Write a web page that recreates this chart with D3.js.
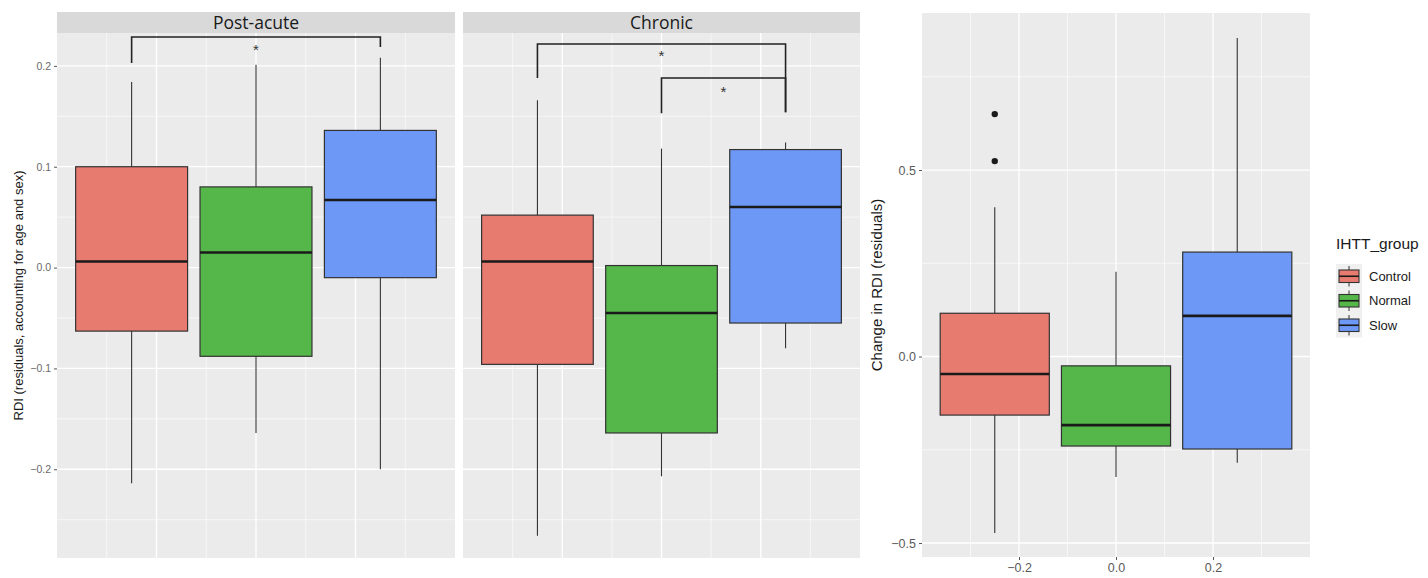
<!DOCTYPE html>
<html>
<head>
<meta charset="utf-8">
<script src="https://cdn.jsdelivr.net/npm/d3@7/dist/d3.min.js"></script>
<style>
  html, body { margin: 0; padding: 0; background: #ffffff; }
  svg { display: block; }
  text { font-family: "Liberation Sans", Arial, sans-serif; }
</style>
</head>
<body>
<svg id="chart" width="1428" height="578"></svg>
<script>
// ---- data ----
const groups = ["Control", "Normal", "Slow"];
const groupColors = ["#e77b70", "#55b64a", "#6d98f6"];
const groupPositions = [-0.25, 0, 0.25];   // dodged box centres on the continuous x axis
const boxWidth = 0.225;

const facetLabels = ["Post-acute", "Chronic"];

// Post-acute RDI residuals (per group)
const postAcuteLower  = [-0.214, -0.164, -0.200];
const postAcuteQ1     = [-0.063, -0.088, -0.010];
const postAcuteMedian = [ 0.006,  0.015,  0.067];
const postAcuteQ3     = [ 0.100,  0.080,  0.136];
const postAcuteUpper  = [ 0.184,  0.201,  0.208];

// Chronic RDI residuals (per group)
const chronicLower  = [-0.266, -0.207, -0.080];
const chronicQ1     = [-0.096, -0.164, -0.055];
const chronicMedian = [ 0.006, -0.045,  0.060];
const chronicQ3     = [ 0.052,  0.002,  0.117];
const chronicUpper  = [ 0.166,  0.118,  0.124];

// Change in RDI residuals (per group)
const changeLower    = [-0.473, -0.323, -0.285];
const changeQ1       = [-0.157, -0.240, -0.248];
const changeMedian   = [-0.047, -0.184,  0.109];
const changeQ3       = [ 0.116, -0.025,  0.280];
const changeUpper    = [ 0.400,  0.227,  0.854];
const changeOutliers = [[0.650, 0.524], [], []];

// significance brackets: groups joined, bar height, tip ends, label height
const postAcuteBrackets = [
  { from: 0, to: 2, bar: 0.2287, tipFrom: 0.2029, tipTo: 0.2188, label: "*", labelAt: 0.2188 }
];
const chronicBrackets = [
  { from: 0, to: 2, bar: 0.2217, tipFrom: 0.1880, tipTo: 0.1540, label: "*", labelAt: 0.2128 },
  { from: 1, to: 2, bar: 0.1880, tipFrom: 0.1530, tipTo: 0.1540, label: "*", labelAt: 0.1770 }
];

// axis ticks
const rdiTicks = [-0.2, -0.1, 0.0, 0.1, 0.2];
const rdiMinorTicks = [-0.25, -0.15, -0.05, 0.05, 0.15];
const changeTicks = [-0.5, 0.0, 0.5];
const changeMinorTicks = [-0.25, 0.25, 0.75];
const xTicks = [-0.2, 0.0, 0.2];
const xMinorTicks = [-0.3, -0.1, 0.1, 0.3];

const leftTitle = "RDI (residuals, accounting for age and sex)";
const rightTitle = "Change in RDI (residuals)";
const legendTitle = "IHTT_group";

// ---- layout ----
const svg = d3.select("#chart");
const panelBg = "#ebebeb";
const stripBg = "#d9d9d9";
const lineCol = "#333333";
const fmt = d3.format(".1f");

const leftPanels = [
  { x0: 57, x1: 455, brackets: postAcuteBrackets,
    stats: [postAcuteLower, postAcuteQ1, postAcuteMedian, postAcuteQ3, postAcuteUpper] },
  { x0: 463, x1: 860, brackets: chronicBrackets,
    stats: [chronicLower, chronicQ1, chronicMedian, chronicQ3, chronicUpper] }
];
const leftTop = 33, leftBottom = 558, stripTop = 12;

// shared y scale of the faceted plot
const yLeft = d3.scaleLinear().domain([-0.288, 0.2326]).range([leftBottom, leftTop]);

function drawGrid(g, x, y, yMajor, yMinor) {
  const [xa, xb] = x.range();
  const [ya, yb] = y.range();
  g.append("rect").attr("x", xa).attr("y", yb).attr("width", xb - xa).attr("height", ya - yb)
    .attr("fill", panelBg);
  g.selectAll(".ymin").data(yMinor).join("line")
    .attr("x1", xa).attr("x2", xb).attr("y1", d => y(d)).attr("y2", d => y(d))
    .attr("stroke", "#ffffff").attr("stroke-width", 0.6);
  g.selectAll(".xmin").data(xMinorTicks).join("line")
    .attr("y1", ya).attr("y2", yb).attr("x1", d => x(d)).attr("x2", d => x(d))
    .attr("stroke", "#ffffff").attr("stroke-width", 0.6);
  g.selectAll(".ymaj").data(yMajor).join("line")
    .attr("x1", xa).attr("x2", xb).attr("y1", d => y(d)).attr("y2", d => y(d))
    .attr("stroke", "#ffffff").attr("stroke-width", 1.3);
  g.selectAll(".xmaj").data(xTicks).join("line")
    .attr("y1", ya).attr("y2", yb).attr("x1", d => x(d)).attr("x2", d => x(d))
    .attr("stroke", "#ffffff").attr("stroke-width", 1.3);
}

function drawBoxes(g, x, y, stats, outliers) {
  const [lo, q1, med, q3, hi] = stats;
  const boxes = groups.map((name, i) => ({
    i, name, pos: groupPositions[i], lo: lo[i], q1: q1[i], med: med[i], q3: q3[i], hi: hi[i],
    out: outliers ? outliers[i] : []
  }));
  const bw = x(boxWidth) - x(0);
  const bg = g.selectAll(".box").data(boxes).join("g");
  bg.append("line").attr("x1", d => x(d.pos)).attr("x2", d => x(d.pos))
    .attr("y1", d => y(d.q3)).attr("y2", d => y(d.hi))
    .attr("stroke", lineCol).attr("stroke-width", 1.1);
  bg.append("line").attr("x1", d => x(d.pos)).attr("x2", d => x(d.pos))
    .attr("y1", d => y(d.q1)).attr("y2", d => y(d.lo))
    .attr("stroke", lineCol).attr("stroke-width", 1.1);
  bg.append("rect")
    .attr("x", d => x(d.pos) - bw / 2).attr("width", bw)
    .attr("y", d => y(d.q3)).attr("height", d => y(d.q1) - y(d.q3))
    .attr("fill", d => groupColors[d.i]).attr("stroke", lineCol).attr("stroke-width", 1.2);
  bg.append("line")
    .attr("x1", d => x(d.pos) - bw / 2).attr("x2", d => x(d.pos) + bw / 2)
    .attr("y1", d => y(d.med)).attr("y2", d => y(d.med))
    .attr("stroke", "#1a1a1a").attr("stroke-width", 2.6);
  bg.selectAll("circle").data(d => d.out.map(v => ({ pos: d.pos, v }))).join("circle")
    .attr("cx", d => x(d.pos)).attr("cy", d => y(d.v)).attr("r", 3.2).attr("fill", "#1a1a1a");
}

function drawBrackets(g, x, y, brackets) {
  brackets.forEach(b => {
    const xa = x(groupPositions[b.from]), xb = x(groupPositions[b.to]);
    const path = d3.path();
    path.moveTo(xa, y(b.tipFrom));
    path.lineTo(xa, y(b.bar));
    path.lineTo(xb, y(b.bar));
    path.lineTo(xb, y(b.tipTo));
    g.append("path").attr("d", path.toString()).attr("fill", "none")
      .attr("stroke", "#222222").attr("stroke-width", 1.6);
    g.append("text").attr("x", (xa + xb) / 2).attr("y", y(b.labelAt) + 8)
      .attr("text-anchor", "middle").attr("font-size", 15).attr("fill", "#333333")
      .text(b.label);
  });
}

// ---- faceted RDI plot ----
leftPanels.forEach((p, k) => {
  const x = d3.scaleLinear().domain([-0.4, 0.4]).range([p.x0, p.x1]);
  const g = svg.append("g");
  drawGrid(g, x, yLeft, rdiTicks, rdiMinorTicks);
  drawBoxes(g, x, yLeft, p.stats, null);
  drawBrackets(g, x, yLeft, p.brackets);
  // facet strip
  g.append("rect").attr("x", p.x0).attr("y", stripTop).attr("width", p.x1 - p.x0)
    .attr("height", leftTop - stripTop).attr("fill", stripBg);
  g.append("text").attr("x", (p.x0 + p.x1) / 2).attr("y", 28.5)
    .attr("text-anchor", "middle").attr("font-size", 17.5)
    .style("font-family", "'Open Sans', 'Noto Sans', sans-serif")
    .attr("fill", "#1a1a1a").text(facetLabels[k]);
});

// y axis of the faceted plot
const leftAxis = svg.append("g").attr("transform", `translate(${leftPanels[0].x0},0)`)
  .call(d3.axisLeft(yLeft).tickValues(rdiTicks).tickFormat(fmt).tickSize(3).tickPadding(3));
leftAxis.select(".domain").remove();
leftAxis.selectAll(".tick line").attr("stroke", "#555555").attr("stroke-width", 1);
leftAxis.selectAll(".tick text").attr("fill", "#6a6a6a").attr("font-size", 10.5)
  .style("font-family", "'Liberation Sans', Arial, sans-serif");

svg.append("text")
  .attr("transform", `translate(23,${(leftTop + leftBottom) / 2}) rotate(-90)`)
  .attr("text-anchor", "middle").attr("font-size", 13).attr("fill", "#1a1a1a")
  .text(leftTitle);

// ---- change plot ----
const xRight = d3.scaleLinear().domain([-0.4, 0.4]).range([922, 1310]);
const yRight = d3.scaleLinear().domain([-0.5375, 0.921]).range([557, 13]);
const gr = svg.append("g");
drawGrid(gr, xRight, yRight, changeTicks, changeMinorTicks);
drawBoxes(gr, xRight, yRight,
  [changeLower, changeQ1, changeMedian, changeQ3, changeUpper], changeOutliers);

const rAxisY = svg.append("g").attr("transform", "translate(922,0)")
  .call(d3.axisLeft(yRight).tickValues(changeTicks).tickFormat(fmt).tickSize(3).tickPadding(3));
rAxisY.select(".domain").remove();
rAxisY.selectAll(".tick line").attr("stroke", "#555555");
rAxisY.selectAll(".tick text").attr("fill", "#5a5a5a").attr("font-size", 12.5)
  .style("font-family", "'Liberation Sans', Arial, sans-serif");

const rAxisX = svg.append("g").attr("transform", "translate(0,557)")
  .call(d3.axisBottom(xRight).tickValues(xTicks).tickFormat(fmt).tickSize(3).tickPadding(3));
rAxisX.select(".domain").remove();
rAxisX.selectAll(".tick line").attr("stroke", "#555555");
rAxisX.selectAll(".tick text").attr("fill", "#5a5a5a").attr("font-size", 12.5)
  .style("font-family", "'Liberation Sans', Arial, sans-serif");

svg.append("text")
  .attr("transform", `translate(882,${(13 + 557) / 2}) rotate(-90)`)
  .attr("text-anchor", "middle").attr("font-size", 15).attr("fill", "#1a1a1a")
  .text(rightTitle);

// ---- legend ----
const legend = svg.append("g").attr("transform", "translate(1336,0)");
legend.append("text").attr("x", 0).attr("y", 249).attr("font-size", 15.5).attr("fill", "#1a1a1a")
  .text(legendTitle);
const keyH = 24.5, keyTop = 264, keyW = 26;
legend.append("rect").attr("x", 0).attr("y", keyTop).attr("width", keyW)
  .attr("height", keyH * groups.length).attr("fill", "#f0f0f0");
const keys = legend.selectAll(".key").data(groups).join("g")
  .attr("transform", (d, i) => `translate(0,${keyTop + i * keyH})`);
keys.append("line").attr("x1", keyW / 2).attr("x2", keyW / 2).attr("y1", 2).attr("y2", keyH - 2)
  .attr("stroke", lineCol).attr("stroke-width", 1);
keys.append("rect").attr("x", 3).attr("y", 6).attr("width", keyW - 6).attr("height", keyH - 12)
  .attr("fill", (d, i) => groupColors[i]).attr("stroke", lineCol).attr("stroke-width", 1.1);
keys.append("line").attr("x1", 3).attr("x2", keyW - 3).attr("y1", keyH / 2).attr("y2", keyH / 2)
  .attr("stroke", "#1a1a1a").attr("stroke-width", 1.6);
keys.append("text").attr("x", 33).attr("y", keyH / 2 + 4.5).attr("font-size", 13)
  .attr("fill", "#1a1a1a").text(d => d);
</script>
</body>
</html>
